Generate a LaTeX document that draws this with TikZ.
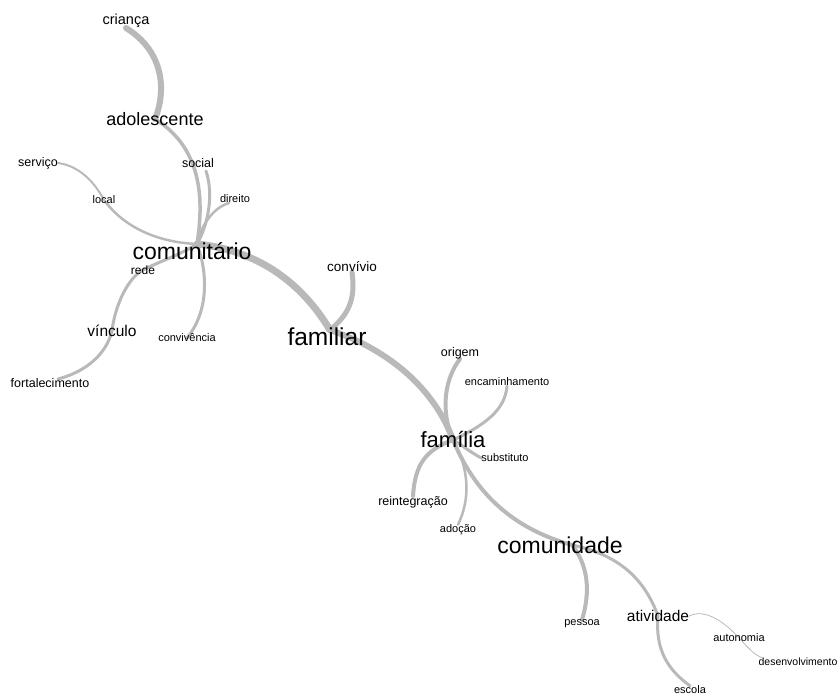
\documentclass[tikz,border=0pt]{standalone}
\usepackage{fontspec}
\setmainfont{Liberation Sans}
\usetikzlibrary{backgrounds}
\definecolor{edgegray}{RGB}{185,185,185}
\tikzstyle{word} = [inner sep=0pt, text=black]
\tikzstyle{lblxs} = [word, font=\fontsize{11}{13}\selectfont]
\tikzstyle{lbls} = [word, font=\fontsize{12.5}{14}\selectfont]
\tikzstyle{lblm} = [word, font=\fontsize{15.5}{18}\selectfont]
\tikzstyle{lbll} = [word, font=\fontsize{18}{21}\selectfont]
\tikzstyle{lblxl} = [word, font=\fontsize{23}{26}\selectfont]
\tikzset{link/.style={draw=edgegray, line cap=round, line width=#1}}

\begin{document}
\begin{tikzpicture}[x=1pt, y=-1pt]
\useasboundingbox (0,0) rectangle (840,695);

% words
\node (crianca) [lblm, font=\fontsize{14.5}{17}\selectfont] at (126,21) {criança};
\node (adolescente) [lbll] at (155,119) {adolescente};
\node (servico) [lbls] at (38,163) {serviço};
\node (social) [lbls] at (198,163) {social};
\node (local) [lblxs] at (104,200) {local};
\node (direito) [lblxs] at (235,199) {direito};
\node (comunitario) [lblxl] at (192,251) {comunitário};
\node (rede) [lbls, font=\fontsize{12}{14}\selectfont] at (143,270) {rede};
\node (convivio) [lbls, font=\fontsize{13.5}{16}\selectfont] at (352,267) {convívio};
\node (vinculo) [lblm] at (112,331) {vínculo};
\node (convivencia) [lblxs] at (187,338) {convivência};
\node (familiar) [lblxl, font=\fontsize{24.5}{28}\selectfont] at (327,337) {familiar};
\node (fortalecimento) [lbls] at (50,383) {fortalecimento};
\node (origem) [lbls] at (460,353) {origem};
\node (encaminhamento) [lblxs] at (507,382) {encaminhamento};
\node (familia) [lblxl, font=\fontsize{22}{25}\selectfont] at (453,440) {família};
\node (substituto) [lblxs] at (505,458) {substituto};
\node (reintegracao) [lbls] at (413,502) {reintegração};
\node (adocao) [lblxs] at (458,530) {adoção};
\node (comunidade) [lblxl] at (560,545) {comunidade};
\node (pessoa) [lblxs] at (582,624) {pessoa};
\node (atividade) [lblm] at (658,616) {atividade};
\node (autonomia) [lblxs] at (739,638) {autonomia};
\node (desenvolvimento) [lblxs, font=\fontsize{10.5}{12}\selectfont] at (798,662) {desenvolvimento};
\node (escola) [lblxs] at (690,690) {escola};

\begin{pgfonlayer}{background}
\draw [link=6] (crianca.south) .. controls (165,52) and (166,92) .. (adolescente.center);
\draw [link=3.5] (adolescente.center) .. controls (205,150) and (203,205) .. ([xshift=5pt,yshift=7pt]comunitario.center);
\draw [link=3] ([xshift=8pt,yshift=-8pt]social.center) .. controls (214,195) and (208,225) .. ([xshift=5pt,yshift=7pt]comunitario.center);
\draw [link=2.5] ([xshift=-6pt,yshift=-4pt]direito.center) .. controls (212,208) and (200,228) .. ([xshift=5pt,yshift=7pt]comunitario.center);
\draw [link=2] (servico.east) .. controls (80,166) and (95,183) .. (local.center);
\draw [link=2.5] (local.center) .. controls (120,222) and (150,242) .. ([xshift=5pt,yshift=7pt]comunitario.center);
\draw [link=3] ([xshift=5pt,yshift=7pt]comunitario.center) .. controls (180,255) and (158,262) .. (rede.center);
\draw [link=3] (rede.center) .. controls (128,278) and (115,305) .. (vinculo.center);
\draw [link=3] (vinculo.center) .. controls (106,355) and (85,372) .. ([xshift=8pt,yshift=4pt]fortalecimento.center);
\draw [link=3] ([xshift=5pt,yshift=7pt]comunitario.center) .. controls (207,270) and (210,310) .. (convivencia.center);
\draw [link=7] ([xshift=5pt,yshift=7pt]comunitario.center) .. controls (255,250) and (300,280) .. ([xshift=3pt,yshift=7pt]familiar.center);
\draw [link=5] (convivio.south) .. controls (356,300) and (348,315) .. ([xshift=3pt,yshift=7pt]familiar.center);
\draw [link=6] ([xshift=3pt,yshift=7pt]familiar.center) .. controls (390,350) and (435,390) .. (familia.center);
\draw [link=4] (origem.south) .. controls (445,378) and (440,410) .. (familia.center);
\draw [link=3] (encaminhamento.south) .. controls (505,410) and (485,425) .. (familia.center);
\draw [link=3] (substituto.west) .. controls (470,452) and (462,445) .. (familia.center);
\draw [link=4] (reintegracao.north) .. controls (415,465) and (425,450) .. (familia.center);
\draw [link=2.5] (adocao.north) .. controls (470,500) and (470,470) .. (familia.center);
\draw [link=4] (familia.center) .. controls (470,480) and (500,525) .. ([xshift=12pt]comunidade.center);
\draw [link=4] ([xshift=12pt]comunidade.center) .. controls (592,570) and (588,600) .. (pessoa.north);
\draw [link=3] ([xshift=12pt]comunidade.center) .. controls (620,555) and (645,580) .. (atividade.center);
\draw [link=3] (atividade.center) .. controls (655,650) and (668,670) .. (escola.north);
\draw [link=0.8] (atividade.east) .. controls (705,608) and (725,622) .. ([xshift=2pt,yshift=-2pt]autonomia.center);
\draw [link=0.8] ([xshift=2pt,yshift=-2pt]autonomia.center) .. controls (750,650) and (755,655) .. ([xshift=4pt]desenvolvimento.north west);
\end{pgfonlayer}

\end{tikzpicture}
\end{document}
